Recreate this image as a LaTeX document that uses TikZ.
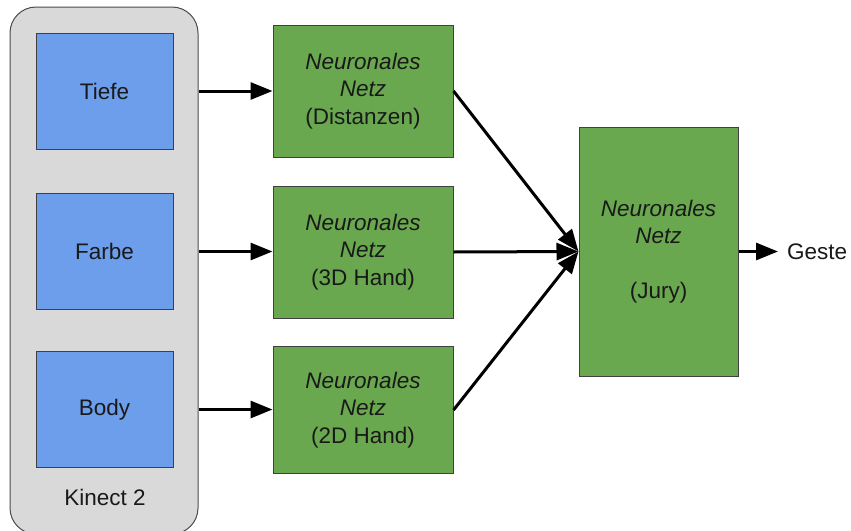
\documentclass[tikz,border=0pt]{standalone}
\usepackage{fontspec}
\setmainfont{Liberation Sans}
\usetikzlibrary{arrows.meta}
\definecolor{kgray}{HTML}{D9D9D9}
\definecolor{kblue}{HTML}{6D9EEB}
\definecolor{kgreen}{HTML}{6AA84F}
\begin{document}
\begin{tikzpicture}[x=1pt,y=-1pt,
  txt/.style={font=\fontsize{22.5}{27.5}\selectfont, text=black!90},
  container/.style={draw=black!70, fill=kgray, line width=1pt, rounded corners=26pt, inner sep=0pt},
  inbox/.style={txt, draw=black!75, fill=kblue, line width=1pt, minimum width=137pt, minimum height=116pt, inner sep=0pt},
  netbox/.style={txt, draw=black!75, fill=kgreen, line width=1pt, minimum width=180pt, minimum height=132pt, inner sep=0pt, align=center},
  flow/.style={line width=3pt, -{Triangle[length=22pt,width=17pt]}}
]
\useasboundingbox (0,0) rectangle (851,530);
\fill[white] (0,0) rectangle (851,530);
\node[container, minimum width=188pt, minimum height=527pt] (kinect) at (104,270.5) {};
\node[inbox] (tiefe) at (104.5,91) {Tiefe};
\node[inbox] (farbe) at (104.5,251.5) {Farbe};
\node[inbox] (body) at (104.5,409.5) {Body};
\node[txt] (klabel) at (105,497) {Kinect 2};
\node[netbox] (n1) at (363,91) {\textit{Neuronales}\\\textit{Netz}\\(Distanzen)};
\node[netbox] (n2) at (363,252) {\textit{Neuronales}\\\textit{Netz}\\(3D Hand)};
\node[netbox, minimum height=127pt] (n3) at (363,410) {\textit{Neuronales}\\\textit{Netz}\\(2D Hand)};
\node[netbox, minimum width=159pt, minimum height=249pt] (jury) at (658.5,251.5) {\textit{Neuronales}\\\textit{Netz}\\[27.5pt](Jury)};
\node[txt, anchor=west, inner xsep=9pt] (geste) at (778,251.5) {Geste};
\draw[flow] (kinect.east |- tiefe) -- (n1.west |- tiefe);
\draw[flow] (kinect.east |- farbe) -- (n2.west |- farbe);
\draw[flow] (kinect.east |- body) -- (n3.west |- body);
\draw[flow] (n1.east) -- (jury.west);
\draw[flow] (n2.east) -- (jury.west);
\draw[flow] (n3.east) -- (jury.west);
\draw[flow] (jury.east) -- (geste.west);
\end{tikzpicture}
\end{document}
